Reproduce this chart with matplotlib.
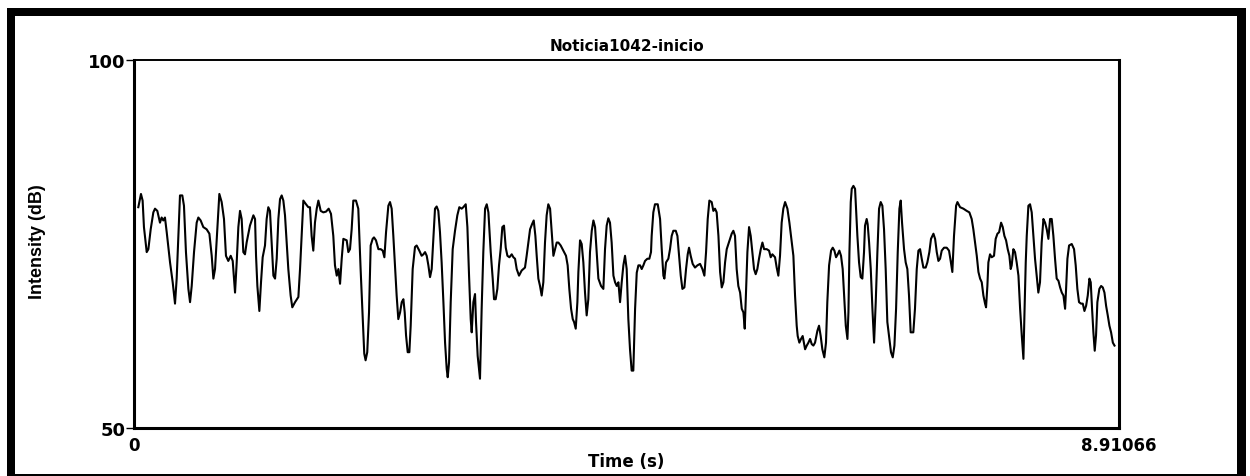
import matplotlib
matplotlib.use("Agg")
import matplotlib.pyplot as plt
from matplotlib.patches import Rectangle


title = "Noticia1042-inicio"
x_label = "Time (s)"
y_label = "Intensity (dB)"
t_min, t_max = 0, 8.91066
db_min, db_max = 50, 100
x_tick_labels = ["0", "8.91066"]
y_tick_labels = ["50", "100"]

# intensity contour, time in s
time_s = [
    0.039, 0.063, 0.078, 0.090, 0.115, 0.130, 0.151, 0.175, 0.190, 0.211, 0.235, 0.250, 0.265, 0.280,
    0.296, 0.326, 0.350, 0.371, 0.386, 0.401, 0.416, 0.437, 0.452, 0.470, 0.492, 0.507, 0.522, 0.543,
    0.567, 0.582, 0.603, 0.627, 0.657, 0.682, 0.703, 0.718, 0.733, 0.754, 0.772, 0.793, 0.814, 0.832,
    0.853, 0.875, 0.893, 0.914, 0.929, 0.944, 0.959, 0.974, 0.989, 1.004, 1.019, 1.049, 1.080,
    1.095, 1.104, 1.116, 1.134, 1.149, 1.164, 1.185, 1.200, 1.215, 1.230, 1.245, 1.261, 1.276, 1.291,
    1.306, 1.321, 1.336, 1.351, 1.366, 1.396, 1.417, 1.432, 1.457, 1.487, 1.502, 1.517, 1.532, 1.556,
    1.577, 1.592, 1.607, 1.622, 1.637, 1.653, 1.668, 1.689, 1.713, 1.737, 1.761, 1.782, 1.803, 1.818,
    1.834, 1.849, 1.864, 1.879, 1.894, 1.924, 1.939, 1.954, 1.969, 1.984, 2.008, 2.029, 2.050, 2.068,
    2.083, 2.095, 2.110, 2.126, 2.141, 2.159,
    2.171, 2.189, 2.211, 2.232, 2.250, 2.265, 2.280, 2.301, 2.316, 2.331, 2.346, 2.361, 2.376, 2.391,
    2.407, 2.422, 2.437, 2.449, 2.461, 2.476, 2.491, 2.503, 2.521, 2.542, 2.557, 2.581, 2.602, 2.618,
    2.633, 2.648, 2.663, 2.678, 2.693, 2.708, 2.723, 2.738, 2.753, 2.768, 2.783, 2.799, 2.814, 2.829,
    2.838, 2.850, 2.865, 2.883, 2.904, 2.925, 2.943, 2.964, 2.979, 3.001, 3.016, 3.031, 3.046, 3.055,
    3.070, 3.085, 3.094, 3.109, 3.121, 3.130, 3.145, 3.160, 3.176, 3.191, 3.206, 3.227, 3.245, 3.257,
    3.272, 3.287, 3.302, 3.317, 3.332, 3.347, 3.363, 3.378, 3.396, 3.417, 3.432, 3.447, 3.462, 3.483,
    3.507, 3.522, 3.537, 3.552, 3.567, 3.583, 3.601, 3.616, 3.631, 3.643, 3.658, 3.673, 3.688, 3.703,
    3.718, 3.733, 3.748, 3.764, 3.779, 3.794, 3.809, 3.824, 3.839, 3.860, 3.884, 3.908, 3.923, 3.938,
    3.954, 3.969, 3.981, 3.996, 4.011, 4.020, 4.035, 4.050, 4.065, 4.080, 4.095, 4.110, 4.125, 4.141,
    4.156, 4.171, 4.186, 4.201, 4.225, 4.246, 4.261, 4.276, 4.291, 4.306, 4.321,
    4.337, 4.352, 4.367, 4.382, 4.397, 4.412, 4.427, 4.442, 4.457, 4.472, 4.487, 4.502, 4.517, 4.533,
    4.548, 4.563, 4.578, 4.593, 4.608, 4.623, 4.644, 4.662, 4.677, 4.683, 4.698, 4.713, 4.738, 4.759,
    4.774, 4.789, 4.798, 4.813, 4.834, 4.849, 4.864, 4.879, 4.901, 4.916, 4.931, 4.946, 4.961, 4.979,
    4.994, 5.009, 5.021, 5.036, 5.054, 5.075, 5.097, 5.121, 5.142, 5.160, 5.175, 5.190, 5.205, 5.226,
    5.241, 5.256, 5.271, 5.287, 5.302, 5.317, 5.332, 5.347, 5.362, 5.377, 5.407,
    5.422, 5.437, 5.452, 5.467, 5.483, 5.498, 5.513, 5.525, 5.537, 5.549, 5.564, 5.579, 5.594, 5.609,
    5.624, 5.639, 5.654, 5.670, 5.685, 5.700, 5.724, 5.745, 5.760, 5.775, 5.799, 5.814, 5.829, 5.844,
    5.859, 5.874, 5.890, 5.911, 5.929, 5.950, 5.965, 5.980, 5.995, 6.004, 6.019, 6.034, 6.049, 6.071,
    6.086, 6.101, 6.116, 6.131, 6.146, 6.161, 6.182, 6.197, 6.212, 6.227, 6.245, 6.260, 6.272, 6.288,
    6.306, 6.321, 6.336, 6.351, 6.366, 6.381, 6.396, 6.411, 6.424, 6.439, 6.454, 6.463, 6.472, 6.484,
    6.493, 6.508, 6.523, 6.532, 6.544, 6.559, 6.574, 6.589, 6.604, 6.613, 6.628, 6.637, 6.650, 6.665,
    6.680, 6.695, 6.710, 6.725, 6.740, 6.755, 6.770, 6.785, 6.800, 6.815, 6.833, 6.848, 6.864, 6.879,
    6.894, 6.909, 6.924, 6.936, 6.948, 6.966, 6.981, 6.996, 7.011, 7.026, 7.050, 7.065, 7.081, 7.096,
    7.111, 7.126, 7.141, 7.162, 7.177, 7.195, 7.210, 7.232, 7.247, 7.262, 7.277, 7.292, 7.307, 7.328,
    7.352, 7.373, 7.388, 7.403, 7.418, 7.437, 7.449, 7.473, 7.503, 7.533, 7.557, 7.578, 7.593,
    7.609, 7.624, 7.639, 7.654, 7.669, 7.684, 7.699, 7.708, 7.720, 7.729, 7.744, 7.759, 7.780, 7.795,
    7.811, 7.826, 7.844, 7.859, 7.874, 7.889, 7.904, 7.919, 7.931, 7.940, 7.955, 7.970, 7.985, 8.001,
    8.016, 8.031, 8.046, 8.055, 8.067, 8.076, 8.091, 8.106, 8.121, 8.136, 8.151, 8.166, 8.181, 8.196,
    8.211, 8.227, 8.242, 8.257, 8.272, 8.287, 8.302, 8.317, 8.332, 8.347, 8.363, 8.378, 8.393, 8.408,
    8.423, 8.432, 8.444, 8.459, 8.483, 8.504, 8.519, 8.534, 8.549, 8.567, 8.583, 8.598, 8.613, 8.628,
    8.643, 8.655, 8.667, 8.679, 8.691, 8.703, 8.715, 8.733, 8.749, 8.764, 8.779, 8.794, 8.809, 8.824,
    8.839, 8.855, 8.870,
]

# intensity in dB, same order as time_s
intensity_db = [
    80.0, 81.8, 80.9, 77.3, 73.9, 74.3, 77.0, 79.3, 79.8, 79.5, 77.9, 78.6, 78.2, 78.6,
    76.6, 72.5, 69.8, 66.9, 70.3, 76.1, 81.6, 81.6, 80.2, 73.9, 68.9, 67.1, 69.3, 73.9,
    77.9, 78.6, 78.2, 77.3, 77.0, 76.4, 73.4, 70.3, 71.6, 77.0, 81.8, 80.7, 78.4, 73.4,
    72.7, 73.4, 72.7, 68.4, 72.5, 77.3, 79.5, 78.4, 73.9, 73.6, 75.2, 77.5, 78.9,
    78.4, 73.4, 69.3, 65.9, 69.8, 73.2, 74.8, 78.4, 80.0, 79.5, 75.2, 70.7, 70.3, 73.0,
    78.4, 81.1, 81.6, 80.9, 78.9, 71.6, 68.0, 66.4, 67.1, 67.8, 71.6, 76.1, 80.9, 80.4,
    80.0, 80.0, 76.1, 74.1, 77.9, 79.8, 80.9, 79.5, 79.3, 79.4, 79.8, 79.1, 76.1, 72.1,
    70.7, 71.6, 69.6, 73.0, 75.7, 75.5, 73.9, 74.3, 77.0, 80.9, 80.9, 79.8, 71.6, 65.3,
    60.1, 59.2, 60.3, 65.7, 74.8, 75.7,
    75.9, 75.5, 74.3, 74.3, 74.1, 73.2, 76.6, 80.2, 80.7, 79.8, 76.1, 72.1, 68.0, 64.8,
    65.7, 67.1, 67.5, 65.7, 62.6, 60.3, 60.3, 63.9, 71.6, 74.6, 74.8, 74.1, 73.4, 73.6,
    73.9, 73.4, 72.1, 70.5, 71.6, 75.7, 79.8, 80.1, 79.5, 76.6, 72.5, 67.1, 61.6, 58.0,
    56.9, 58.9, 67.1, 74.3, 76.8, 78.9, 80.0, 79.8, 80.0, 80.4, 77.3, 70.7, 64.8, 63.0,
    67.1, 68.2, 64.4, 59.8, 58.0, 56.7, 66.2, 73.9, 79.8, 80.4, 79.3, 73.9, 70.3, 67.5,
    67.5, 68.9, 72.1, 74.3, 77.3, 77.5, 74.5, 73.4, 73.2, 73.6, 73.2, 73.0, 71.6, 70.7,
    71.4, 71.6, 71.8, 73.4, 75.2, 77.0, 77.7, 78.2, 76.1, 73.4, 70.3, 69.3, 68.0, 69.8,
    75.2, 78.9, 80.4, 79.8, 76.6, 73.4, 74.3, 75.2, 75.2, 74.8, 74.1, 73.4, 72.1, 68.9,
    66.2, 64.8, 64.4, 63.5, 67.1, 71.2, 75.5, 75.0, 72.5, 68.4, 65.3, 67.5, 73.9, 76.8,
    78.2, 77.3, 73.9, 70.3, 69.3, 68.9, 74.3, 77.5, 78.5, 77.9, 75.2,
    70.7, 69.8, 69.3, 69.8, 67.1, 69.8, 72.1, 73.4, 71.6, 64.8, 60.7, 57.8, 57.8, 66.2,
    71.1, 72.1, 72.1, 71.6, 72.1, 72.7, 73.0, 73.0, 73.9, 76.1, 79.3, 80.4, 80.4, 78.4,
    74.3, 70.7, 70.3, 72.5, 73.0, 74.3, 76.1, 76.8, 76.8, 76.1, 73.4, 70.7, 68.9, 69.1,
    71.6, 73.6, 74.5, 73.4, 72.3, 71.8, 72.1, 72.3, 71.6, 70.7, 73.9, 78.4, 80.9, 80.7,
    79.5, 79.8, 79.3, 76.1, 71.2, 69.1, 69.8, 72.5, 74.3, 75.0, 76.4,
    76.8, 76.1, 71.6, 69.3, 68.4, 66.2, 65.7, 63.5, 68.9, 73.9, 77.3, 76.1, 73.9, 71.6,
    70.9, 71.6, 73.0, 74.3, 75.2, 74.3, 74.3, 74.1, 73.2, 73.6, 73.2, 71.8, 70.7, 73.4,
    77.9, 79.8, 80.7, 79.8, 77.9, 75.2, 73.4, 68.0, 63.9, 62.5, 61.6, 62.1, 62.5, 60.7,
    61.2, 61.6, 62.1, 61.4, 61.2, 61.6, 63.2, 63.9, 62.5, 60.7, 59.6, 61.6, 67.1, 72.1,
    74.1, 74.5, 74.1, 73.2, 73.6, 74.1, 73.4, 71.6, 68.0, 63.9, 62.1, 65.7, 73.9, 80.7,
    82.5, 82.9, 82.5, 79.8, 76.1, 72.5, 70.5, 70.3, 73.9, 77.5, 78.4, 77.7, 75.2, 71.6,
    66.2, 61.6, 67.1, 73.9, 79.8, 80.7, 80.2, 77.0, 71.6, 64.4, 62.1, 60.3, 59.6, 61.2,
    66.2, 73.9, 79.8, 80.9, 77.9, 74.3, 72.5, 71.6, 68.0, 63.0, 63.0, 66.2, 71.6, 74.1,
    74.3, 73.0, 71.8, 71.8, 72.5, 73.9, 75.7, 76.4, 75.7, 73.9, 72.7, 73.0, 74.1, 74.5,
    74.5, 74.1, 72.7, 71.2, 76.1, 80.2, 80.7, 80.0, 79.8, 79.5, 79.3, 78.4, 77.0,
    75.2, 73.4, 71.2, 70.3, 69.8, 68.0, 66.9, 66.4, 69.3, 72.5, 73.6, 73.2, 73.4, 75.7,
    76.4, 76.6, 77.9, 77.3, 76.1, 75.5, 74.3, 73.4, 71.6, 72.1, 74.3, 73.9, 72.5, 70.7,
    66.2, 62.6, 59.4, 65.3, 72.5, 76.1, 80.2, 80.4, 79.3, 76.1, 73.0, 70.7, 68.4, 69.8,
    75.2, 78.4, 77.9, 77.0, 75.7, 78.4, 78.4, 76.1, 73.0, 70.3, 70.0, 69.1, 68.4, 68.0,
    66.2, 68.9, 73.0, 74.8, 75.0, 74.3, 72.1, 68.9, 67.1, 66.9, 66.9, 65.9, 66.6, 68.0,
    70.3, 69.8, 66.2, 63.0, 60.5, 62.6, 67.1, 68.9, 69.3, 69.1, 68.4, 66.6, 65.3, 63.9,
    63.0, 61.6, 61.2,
]


def draw_border(fig):
    # black frame round the whole picture (thin at the bottom edge)
    bars = [
        (0.0056, 0.9644, 0.9912, 0.0168),   # top
        (0.0056, 0.0, 0.0064, 0.9811),      # left
        (0.9896, 0.0, 0.0072, 0.9811),      # right
        (0.0056, 0.0, 0.9912, 0.0042),      # bottom
    ]
    for x, y, w, h in bars:
        fig.add_artist(Rectangle((x, y), w, h, transform=fig.transFigure,
                                 facecolor="black", edgecolor="none"))


def plot():
    fig = plt.figure(figsize=(12.5, 4.77), dpi=100)
    fig.patch.set_facecolor("white")
    draw_border(fig)

    ax = fig.add_axes([0.1072, 0.1006, 0.788, 0.7715])
    ax.plot(time_s, intensity_db, color="black", lw=1.5)

    ax.set_xlim(t_min, t_max)
    ax.set_ylim(db_min, db_max)
    ax.set_xticks([t_min, t_max], x_tick_labels)
    ax.set_yticks([db_min, db_max], y_tick_labels)
    ax.tick_params(axis="y", length=5.8, width=1.0, pad=0.5, labelsize=13, color="black")
    ax.tick_params(axis="x", length=0, pad=6, labelsize=12)
    for lbl in ax.get_xticklabels() + ax.get_yticklabels():
        lbl.set_fontweight("bold")

    for side in ["left", "right", "bottom"]:
        ax.spines[side].set_linewidth(2.2)
    ax.spines["top"].set_linewidth(1.4)

    ax.set_title(title, fontsize=11, fontweight="bold", pad=7)
    ax.set_xlabel(x_label, fontsize=12, fontweight="bold")
    ax.xaxis.set_label_coords(0.5, -0.066)
    # the original y label is a tall, narrow face
    ax.set_ylabel(y_label, fontsize=13, fontweight="bold", family="Liberation Sans")
    ax.yaxis.set_label_coords(-0.089, 0.51)

    fig.savefig("out.png", dpi=100)


if __name__ == "__main__":
    plot()
